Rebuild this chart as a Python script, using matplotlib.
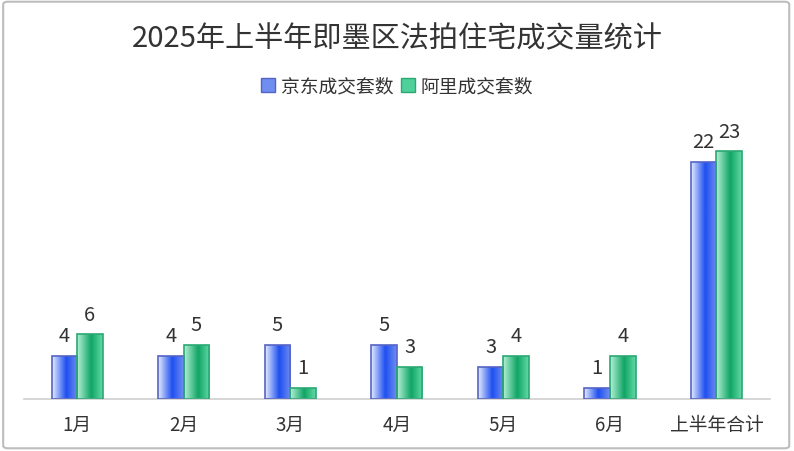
import numpy as np
import matplotlib
matplotlib.use('Agg')
import matplotlib.pyplot as plt
from matplotlib.colors import LinearSegmentedColormap
from matplotlib.patches import Patch, FancyBboxPatch

plt.rcParams['font.family'] = ['Noto Sans CJK SC', 'DejaVu Sans']

# data
categorias = ['1月', '2月', '3月', '4月', '5月', '6月', '上半年合计']
jd = [4, 4, 5, 5, 3, 1, 22]
ali = [6, 5, 1, 3, 4, 4, 23]
series_names = ['京东成交套数', '阿里成交套数']

fig = plt.figure(figsize=(7.94, 4.52), dpi=100)
ax = fig.add_axes([0.030, 0.1155, 0.9395, 0.595])

x = np.arange(len(categorias))
w = 0.24

cmap_azul = LinearSegmentedColormap.from_list('az', [(0, '#e4ecff'), (0.55, '#1f4ff0'), (1, '#6f8ef0')])
cmap_verde = LinearSegmentedColormap.from_list('vd', [(0, '#b4f0d6'), (0.55, '#10a565'), (1, '#63d9a6')])
grad = np.linspace(0, 1, 64).reshape(1, -1)

b1 = ax.bar(x - w/2, jd, w, facecolor='none', edgecolor='#5563c4', linewidth=1.2, zorder=3)
b2 = ax.bar(x + w/2, ali, w, facecolor='none', edgecolor='#2aa874', linewidth=1.2, zorder=3)

for barras, cm in [(b1, cmap_azul), (b2, cmap_verde)]:
    for r in barras:
        x0, y0 = r.get_x(), r.get_y()
        im = ax.imshow(grad, extent=[x0, x0 + r.get_width(), y0, y0 + r.get_height()],
                       aspect='auto', cmap=cm, zorder=2, interpolation='bilinear')
        im.set_clip_path(r)

ax.bar_label(b1, padding=7, fontsize=14.5, color='#333333')
ax.bar_label(b2, padding=7, fontsize=14.5, color='#333333')

ax.set_xlim(-0.5, len(categorias) - 0.5)
ax.set_ylim(0, 25)
ax.set_xticks(x)
ax.set_xticklabels(categorias, fontsize=13.5, color='#333333')
ax.tick_params(axis='x', length=0, pad=11)
ax.set_yticks([])
for s in ['top', 'right', 'left']:
    ax.spines[s].set_visible(False)
ax.spines['bottom'].set_color('#d0d0d0')
ax.spines['bottom'].set_linewidth(1.2)

fig.text(0.5, 0.913, '2025年上半年即墨区法拍住宅成交量统计', ha='center', va='center',
         fontsize=21, color='#333333')

handles = [Patch(facecolor='#6f8ef0', edgecolor='#5563c4', label=series_names[0]),
           Patch(facecolor='#4fd09a', edgecolor='#2aa874', label=series_names[1])]
fig.legend(handles=handles, loc='center', bbox_to_anchor=(0.5, 0.808), ncol=2, frameon=False,
           fontsize=13.5, handlelength=0.75, handleheight=0.75, handletextpad=0.3,
           columnspacing=0.4, labelcolor='#333333')

borde = FancyBboxPatch((0.004, 0.006), 0.99, 0.988, boxstyle='round,pad=0,rounding_size=0.006',
                       transform=fig.transFigure, facecolor='none', edgecolor='#bdbdbd', linewidth=1.5)
fig.add_artist(borde)

fig.savefig('out.png', dpi=100)
